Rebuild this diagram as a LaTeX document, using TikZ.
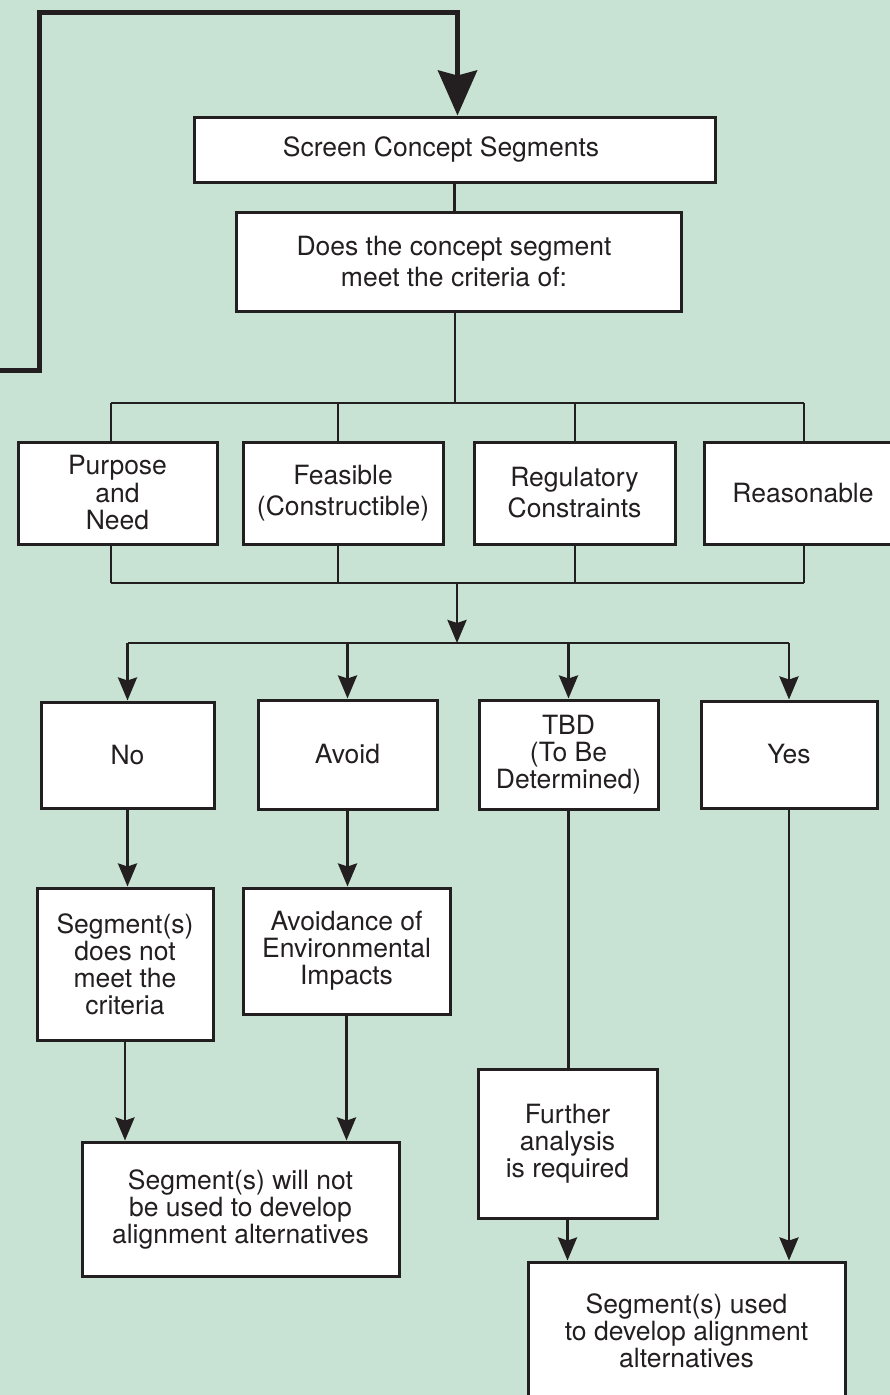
\documentclass[tikz,border=0pt]{standalone}
\usepackage{fontspec}
\setmainfont{TeX Gyre Heros}
\usetikzlibrary{arrows.meta}
\definecolor{bgmint}{RGB}{200,227,211}
\definecolor{ink}{RGB}{35,31,32}
\tikzset{
  chartbox/.style={draw=ink,fill=white,line width=3pt,align=center,inner sep=0pt,text=ink,font=\fontsize{26.5}{27}\selectfont},
  widegap/.style={font=\fontsize{26.5}{31}\selectfont},
  link/.style={draw=ink,line width=2.8pt},
}
\begin{document}
\begin{tikzpicture}[x=1pt,y=-1pt,>={Stealth[length=23pt,width=19pt,inset=3pt]}]
    \useasboundingbox (0,0) rectangle (890,1395);
    \fill[bgmint] (0,0) rectangle (890,1395);
    \clip (0,0) rectangle (890,1395);
    % boxes
    \node[chartbox,minimum width=521pt,minimum height=65pt] (screen) at (454.5,149.5) {\raisebox{-3pt}{Screen Concept Segments}\hspace*{27pt}};
    \node[chartbox,widegap,minimum width=445pt,minimum height=99pt] (crit) at (458.5,261.5) {Does the concept segment\hspace*{9pt}\\meet the criteria of:\hspace*{9pt}};
    \node[chartbox,font=\fontsize{26.5}{27.5}\selectfont,minimum width=199pt,minimum height=102pt] (purpose) at (117.5,493) {Purpose\\and\\Need};
    \node[chartbox,widegap,minimum width=200pt,minimum height=102pt] (feasible) at (343,493) {Feasible\\(Constructible)};
    \node[chartbox,widegap,minimum width=201pt,minimum height=102pt] (regulatory) at (574.5,493) {Regulatory\\Constraints};
    \node[chartbox,minimum width=198pt,minimum height=102pt] (reasonable) at (803,493) {Reasonable};
    \node[chartbox,minimum width=173pt,minimum height=106pt] (no) at (127.5,755) {No};
    \node[chartbox,minimum width=179pt,minimum height=109pt] (avoid) at (347.5,754.5) {Avoid};
    \node[chartbox,minimum width=179pt,minimum height=109pt] (tbd) at (568.5,754.5) {TBD\\(To Be\\Determined)};
    \node[chartbox,minimum width=176pt,minimum height=107pt] (yes) at (789,754.5) {Yes};
    \node[chartbox,minimum width=176pt,minimum height=152pt] (notmeet) at (125,964) {Segment(s)\\does not\\meet the\\criteria};
    \node[chartbox,minimum width=207pt,minimum height=126pt] (avoidance) at (346.5,951) {Avoidance of\\Environmental\\Impacts};
    \node[chartbox,minimum width=179pt,minimum height=149pt] (further) at (567.5,1143.5) {Further\\analysis\\is required};
    \node[chartbox,minimum width=317pt,minimum height=134pt] (willnot) at (240.5,1209) {Segment(s) will not\\be used to develop\\alignment alternatives};
    \node[chartbox,minimum width=317pt,minimum height=138pt] (used) at (686.5,1331) {Segment(s) used\\to develop alignment\\alternatives};
    % loop back into the screening step
    \coordinate (loopin) at (-10,370);
    \draw[ink,line width=5pt,-{Stealth[length=45pt,width=39pt,inset=5pt]}] (loopin) -- (39.5,370) -- (39.5,12) -- (457.5,12) -- (457.5,0 |- screen.north);
    % criteria buses
    \coordinate (fork) at (455,403);
    \coordinate (merge) at (457,583);
    \coordinate (split) at (457,643);
    \draw[link] (screen.south) -- (screen.south |- crit.north);
    \draw[link] (crit.south -| fork) -- (fork);
    \draw[link] (111,403) -- (804,403);
    \draw[link] (111,583) -- (804,583);
    \foreach \n/\x in {purpose/111,feasible/338,regulatory/575,reasonable/804}{
        \draw[link] (\x,403) -- (\x,0 |- \n.north);
        \draw[link] (\x,0 |- \n.south) -- (\x,583);
    }
    \draw[link,->] (merge) -- (split);
    \draw[link] (no.north |- split) -- (yes.north |- split);
    \foreach \n in {no,avoid,tbd,yes}
        \draw[link,->] (\n.north |- split) -- (\n.north);
    % outcomes
    \draw[link,->] (no.south) -- (no.south |- notmeet.north);
    \draw[link,->] (avoid.south) -- (avoid.south |- avoidance.north);
    \draw[link] (tbd.south) -- (tbd.south |- further.north);
    \draw[link,->] (yes.south) -- (yes.south |- used.north);
    \draw[link,->] (notmeet.south) -- (notmeet.south |- willnot.north);
    \draw[link,->] (avoidance.south) -- (avoidance.south |- willnot.north);
    \draw[link,->] (further.south) -- (further.south |- used.north);
\end{tikzpicture}
\end{document}
